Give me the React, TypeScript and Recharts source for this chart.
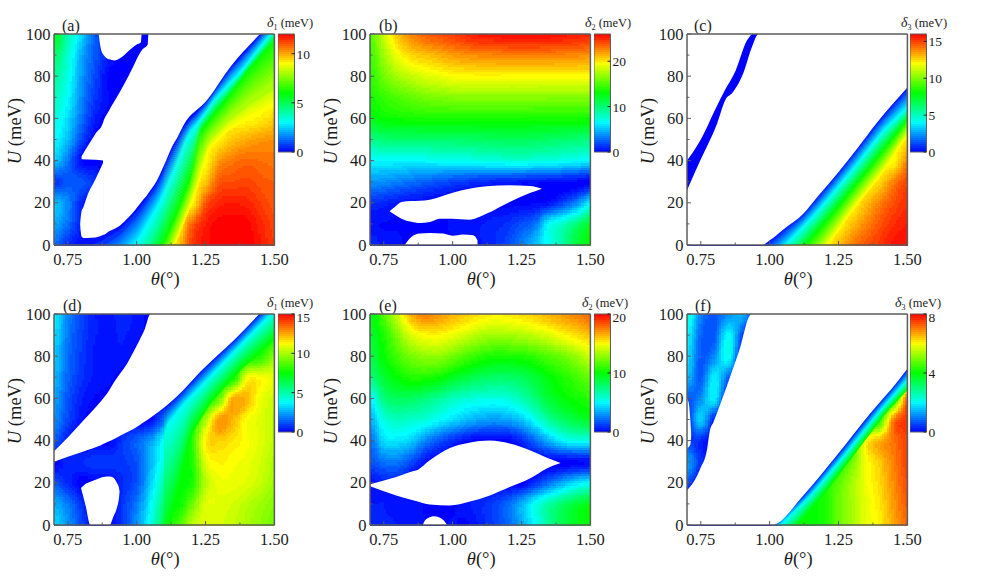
import React from "react";
import { ComposedChart, XAxis, YAxis, Scatter, Area, ReferenceArea } from "recharts";

// grid the gap values were read on (rows run from the top of the plot down)
const thetaGrid = [0.7, 0.75, 0.8, 0.85, 0.9, 0.95, 1.0, 1.05, 1.1, 1.15, 1.2, 1.25, 1.3, 1.35, 1.4, 1.45, 1.5];
const uGrid = [100, 90, 80, 70, 60, 50, 40, 30, 20, 10, 0];
const thetaTicks = [0.75, 0.875, 1.0, 1.125, 1.25, 1.375, 1.5];
const thetaLabels = [0.75, 1.0, 1.25, 1.5];
const uTicks = [0, 10, 20, 30, 40, 50, 60, 70, 80, 90, 100];

const gridA = [
  [5.8, 4, 2.5, 1, 0, 0, 0, 0, 0, 0, 0, 0, 0, 0, 0, 0.3, 3.5],
  [4.8, 3.6, 2, 1, 0.3, 0, 0, 0, 0, 0, 0, 0, 0, 0, 2, 4.5, 6.8],
  [4.2, 3.3, 1.8, 0.8, 0, 0, 0, 0, 0, 0, 0, 0, 0, 2, 5.5, 7.2, 8],
  [3.8, 3, 1.6, 0.6, 0.1, 0, 0, 0, 0, 0, 0, 0, 3.5, 6.5, 8, 8.5, 8.6],
  [3.4, 2.6, 1.3, 0.3, 0, 0, 0, 0, 0, 0, 0.6, 6.5, 7.8, 8.5, 9, 9.2, 9.5],
  [3, 2.2, 0.8, 0, 0, 0, 0, 0, 0, 0, 4.5, 8, 9.2, 9.7, 10, 10.2, 10.3],
  [2.4, 1.4, 0.1, 0, 0, 0, 0, 0, 0, 2.5, 5.5, 8.8, 10.2, 10.6, 10.8, 10.7, 10.6],
  [0.6, 1, 1, 0.5, 0, 0, 0, 0, 2.3, 4.8, 7.2, 9.7, 11, 11.1, 11.2, 11, 10.9],
  [2.3, 1.6, 0.4, 0, 0, 0, 0, 1.8, 4.2, 6.5, 8.6, 11, 11.6, 11.7, 11.6, 11.3, 11],
  [2, 1.3, 0.3, 0, 0, 0.7, 2.2, 4, 6, 8.2, 10.8, 11.7, 12, 12, 12, 11.6, 11.2],
  [1.3, 0.5, 0.2, 0.6, 1.2, 2, 3, 5, 7.3, 9.6, 11.3, 11.8, 12, 12, 12, 11.7, 11.3],
];
const gridB = [
  [15, 18, 21, 22.5, 23.5, 24, 24.5, 25, 25.5, 25.5, 25.8, 25.8, 25.8, 25.7, 25.5, 25.3, 25],
  [14.5, 17, 19.2, 20.5, 21, 21.5, 22, 22.3, 22.5, 22.6, 22.7, 22.7, 22.7, 22.7, 22.6, 22.5, 22.3],
  [14, 15.8, 17.2, 18, 18.6, 19, 19.4, 19.5, 19.6, 19.6, 19.5, 19.5, 19.5, 19.5, 19.5, 19.5, 19.5],
  [13.5, 14.3, 15, 15.5, 16, 16.2, 16.4, 16.5, 16.5, 16.5, 16.5, 16.5, 16.5, 16.4, 16.4, 16.4, 16.4],
  [12.5, 13, 13.3, 13.4, 13.5, 13.5, 13.5, 13.5, 13.5, 13.5, 13.5, 13.5, 13.4, 13.4, 13.4, 13.4, 13.4],
  [9.5, 10, 10.1, 10.1, 10.2, 10.3, 10.3, 10.4, 10.5, 10.6, 10.7, 10.7, 10.6, 10.4, 10.2, 10, 9.8],
  [6.3, 6.4, 6.4, 6.4, 6.5, 6.6, 6.7, 6.8, 7, 7.2, 7.3, 7.4, 7.2, 7, 6.8, 6.5, 6.3],
  [3.8, 3.6, 3.2, 2.8, 2.4, 2, 1.6, 1.3, 1, 0.8, 0.5, 0.4, 0.4, 0.3, 0.2, 0.1, 0.1],
  [1.2, 0.9, 0.5, 0.3, 0.2, 0.1, 0.1, 0.1, 0.1, 0.1, 0.1, 0.1, 0.2, 0.5, 1.8, 3.5, 6.3],
  [0.3, 0.2, 0.2, 0.2, 0.1, 0.1, 0.3, 0.4, 0.6, 0.9, 1.2, 2, 3, 6.5, 8, 10, 12],
  [1.2, 0.5, 0.3, 0.1, 0.1, 0.1, 0.1, 0.1, 0.6, 1, 1.8, 3.2, 5, 6.8, 9, 11.5, 13],
];
const gridC = [
  [0, 0, 0, 0, 0, 0, 0, 0, 0, 0, 0, 0, 0, 0, 0, 0, 0],
  [0, 0, 0, 0, 0, 0, 0, 0, 0, 0, 0, 0, 0, 0, 0, 0, 0],
  [0, 0, 0, 0, 0, 0, 0, 0, 0, 0, 0, 0, 0, 0, 0, 0, 0],
  [0, 0, 0, 0, 0, 0, 0, 0, 0, 0, 0, 0, 0, 0, 0, 0, 2],
  [0, 0, 0, 0, 0, 0, 0, 0, 0, 0, 0, 0, 0, 0, 0, 3, 8],
  [0, 0, 0, 0, 0, 0, 0, 0, 0, 0, 0, 0, 0, 0.3, 3.5, 7, 12.4],
  [0, 0, 0, 0, 0, 0, 0, 0, 0, 0, 0, 0, 1, 4.5, 8, 11.7, 13.9],
  [0, 0, 0, 0, 0, 0, 0, 0, 0, 0, 0, 1.3, 5, 9, 12.6, 14, 15],
  [0, 0, 0, 0, 0, 0, 0, 0, 0, 0, 2.3, 6, 10.8, 13, 14, 14.8, 15.3],
  [0, 0, 0, 0, 0, 0, 0, 0, 1.6, 5, 8, 11.5, 13, 13.9, 14.7, 15.3, 15.6],
  [0, 0, 0, 0, 0, 0, 1, 4.4, 7, 9.5, 11.5, 13, 14, 14.7, 15.2, 15.7, 15.8],
];
const gridD = [
  [3.7, 2, 1, 0.4, 0.3, 0.5, 0.3, 0, 0, 0, 0, 0, 0, 0, 0, 0.3, 3.5],
  [3.3, 1.8, 0.9, 0.4, 0.3, 0.4, 0.2, 0, 0, 0, 0, 0, 0, 0, 0.5, 3.2, 6.5],
  [3, 1.6, 0.8, 0.3, 0.3, 0.3, 0, 0, 0, 0, 0, 0, 0, 2.2, 4.8, 8, 9.5],
  [2.8, 1.5, 0.7, 0.3, 0.2, 0, 0, 0, 0, 0, 0, 0, 3.6, 7.5, 11, 11.2, 10.8],
  [2.4, 1.2, 0.4, 0.1, 0, 0, 0, 0, 0, 0, 0.6, 5, 9, 12.5, 12.3, 11, 10.5],
  [2.1, 1, 0.2, 0, 0, 0, 0, 0.1, 1.6, 2.4, 5.6, 10, 12.8, 12.3, 11.2, 10.8, 10.3],
  [1.3, 0.4, 0, 0, 0, 0.8, 1.4, 2.3, 3.9, 5.5, 8, 11.5, 11.9, 11.6, 11.2, 10.8, 10.3],
  [0, 0.5, 0.6, 0.8, 0.8, 0.8, 1.2, 2.6, 4.3, 5.7, 7.8, 10.8, 11.4, 11.2, 11, 10.6, 10],
  [1.3, 0.6, 0, 0, 0, 0.6, 1.2, 3, 5.1, 6.4, 7.8, 10.2, 11, 11, 10.8, 10.4, 9.8],
  [2.6, 1.8, 0.7, 0, 0, 0.8, 1.8, 3.6, 5.9, 7.4, 9, 10.8, 10.8, 10.6, 10.2, 9.8, 9.4],
  [3.2, 2.2, 1, 0, 0, 0.8, 2.2, 4, 6.5, 8.4, 10.2, 10.8, 10.7, 10.4, 10, 9.6, 9.2],
];
const gridE = [
  [9.5, 11.5, 14, 16.5, 17.5, 17, 16.5, 16, 15.5, 15.2, 15.3, 15.6, 16, 16.5, 17, 17.4, 18],
  [9, 10.5, 12.5, 14.3, 15, 15.1, 14.6, 14, 13.4, 13.1, 13.2, 13.4, 13.8, 14.3, 15, 15.6, 16.2],
  [8.5, 10, 11.3, 12.3, 12.8, 12.8, 12.2, 11.4, 10.8, 10.4, 10.4, 10.6, 11, 11.6, 12.2, 13, 14],
  [7.5, 9, 10, 10.6, 10.6, 10.2, 9.4, 8.8, 8.3, 8, 8, 8.3, 9, 9.9, 10.6, 11.3, 12],
  [4.7, 7.5, 8.2, 8.1, 7.6, 7, 6.3, 5.8, 5.6, 5.5, 5.7, 6.5, 7.7, 9, 9.8, 10.3, 10.7],
  [3.3, 5.6, 6.2, 6, 5.7, 5, 4.3, 3.7, 3.2, 3, 3.2, 3.9, 5.3, 7, 8, 8.8, 9.3],
  [2, 4.3, 4.5, 4, 2.6, 1.6, 0.8, 0.2, 0, 0, 0, 0.8, 2, 3.5, 4.8, 5.3, 5.3],
  [1.5, 2.2, 2.3, 1.4, 0.3, 0, 0, 0, 0, 0, 0, 0, 0, 0, 0, 0.1, 0.2],
  [0.2, 0.6, 0.6, 0, 0, 0, 0, 0, 0, 0, 0, 0, 1, 2.2, 3.5, 4.5, 5.2],
  [0.5, 0.5, 0.4, 0.4, 0.1, 0, 0.1, 0.4, 0.7, 1.2, 2, 3.5, 5.3, 6.8, 8, 9, 9.6],
  [0.8, 0.6, 0.5, 0.4, 0.2, 0.1, 0.2, 0.1, 0.6, 1.2, 2, 3.3, 5, 7, 8.5, 9.5, 10],
];
const gridF = [
  [2.4, 1, 0.7, 1.1, 1.4, 0.2, 0, 0, 0, 0, 0, 0, 0, 0, 0, 0, 0],
  [2, 0.8, 0.7, 2, 0.6, 0, 0, 0, 0, 0, 0, 0, 0, 0, 0, 0, 0],
  [1.8, 0.7, 1.1, 2.1, 0.1, 0, 0, 0, 0, 0, 0, 0, 0, 0, 0, 0, 0],
  [1.5, 0.7, 1.9, 0.8, 0, 0, 0, 0, 0, 0, 0, 0, 0, 0, 0, 0, 4.5],
  [0.6, 1.1, 1.9, 0, 0, 0, 0, 0, 0, 0, 0, 0, 0, 0, 0, 4.2, 7.2],
  [0.3, 1.6, 0.2, 0, 0, 0, 0, 0, 0, 0, 0, 0, 0, 0.1, 4.3, 7, 7.6],
  [0.5, 0.3, 0, 0, 0, 0, 0, 0, 0, 0, 0, 0, 4.2, 6, 6.6, 7.1, 7.5],
  [1.3, 0.4, 0, 0, 0, 0, 0, 0, 0, 0, 0, 4.2, 4.9, 5.9, 6.4, 7, 7.5],
  [0.6, 0, 0, 0, 0, 0, 0, 0, 0, 0, 4.2, 4.7, 5.3, 5.9, 6.3, 6.9, 7.4],
  [0, 0, 0, 0, 0, 0, 0, 0, 4, 4, 4.2, 4.8, 5.3, 5.8, 6.2, 6.8, 7.3],
  [0, 0, 0, 0, 0, 0, 0, 2, 4, 4, 4.2, 4.8, 5.3, 5.8, 6.1, 6.7, 7.2],
];

// contour lines for the steep diagonal fronts: level -> [theta, U] points
type Contour = { level: number; points: [number, number][] };
const frontA: Contour[] = [
  { level: 0, points: [[0.82, 3.3], [0.868, 4.6], [0.94, 9.3], [1.013, 19.6], [1.074, 30.7], [1.128, 46.5], [1.17, 56.7], [1.255, 68.6], [1.34, 84.4], [1.448, 100], [1.5, 108]] },
  { level: 3, points: [[0.82, -28], [0.9, -15], [1.001, 0], [1.086, 19.6], [1.14, 35.4], [1.189, 52], [1.225, 57.5], [1.285, 68.6], [1.382, 82], [1.49, 100], [1.5, 101.5]] },
  { level: 6, points: [[1.098, 0], [1.152, 16.4], [1.2, 32.3], [1.231, 52.8], [1.267, 59.1], [1.328, 68.6], [1.41, 83], [1.5, 96]] },
  { level: 9, points: [[1.14, 0], [1.219, 26], [1.261, 44.9], [1.334, 54.4], [1.412, 59.9], [1.503, 65.4]] },
];
const frontC: Contour[] = [
  { level: 0, points: [[0.973, 0], [1.0, 2.2], [1.05, 7.4], [1.123, 14.9], [1.173, 22.7], [1.245, 33.8], [1.318, 45.7], [1.39, 58], [1.5, 74.6]] },
  { level: 4, points: [[1.063, 0], [1.172, 14.9], [1.299, 34.6], [1.414, 53.6], [1.5, 64.6]] },
  { level: 8, points: [[1.135, 0], [1.232, 14.9], [1.353, 34.6], [1.468, 53.6], [1.5, 59]] },
  { level: 12, points: [[1.214, 0], [1.293, 14.9], [1.414, 34.6], [1.48, 48], [1.5, 51]] },
];
const frontD: Contour[] = [
  { level: 0, points: [[0.99, 45.6], [1.05, 50.8], [1.11, 56.7], [1.17, 64], [1.23, 72.5], [1.29, 80], [1.352, 87.5], [1.445, 100], [1.5, 107]] },
  { level: 3.75, points: [[1.043, 0], [1.07, 20], [1.106, 45.7], [1.17, 56.5], [1.231, 64.6], [1.352, 81.2], [1.49, 99.7], [1.5, 101]] },
  { level: 7.5, points: [[1.122, 0], [1.16, 20], [1.2, 43], [1.267, 57.5], [1.376, 73.3], [1.479, 85], [1.5, 88]] },
];
const frontF: Contour[] = [
  { level: 0, points: [[1.008, 0], [1.123, 14.1], [1.244, 33], [1.365, 52.8], [1.468, 68.6], [1.5, 74]] },
  { level: 2, points: [[1.045, 0], [1.154, 14.1], [1.275, 33], [1.396, 52.8], [1.486, 66.2], [1.5, 68]] },
  { level: 4, points: [[1.105, 0], [1.196, 14.1], [1.305, 33], [1.42, 52.8], [1.5, 63.9]] },
];

// white no-gap regions: [theta, U low, U high]
type Gap = [number, number, number][];
const gapsA: Gap[] = [
  [[0.795, 9.5, 10], [0.8, 4, 16], [0.807, 3.3, 18], [0.82, 3.3, 23], [0.85, 3.5, 31], [0.879, 4.8, 39.2]],
  [[0.8, 40.6, 42], [0.85, 40.4, 52.6], [0.878, 40, 58], [0.8785, 4.8, 58.2], [0.9, 6.5, 63.7], [0.94, 9.3, 72.7], [0.97, 13, 80], [0.989, 15.7, 85], [1.0, 17.5, 88], [1.02, 20.8, 92.5], [1.04, 24, 95], [1.043, 24.6, 100], [1.074, 30.7, 100], [1.1, 38, 100], [1.128, 46.5, 100], [1.15, 51.5, 100], [1.17, 56.7, 100], [1.255, 68.6, 100], [1.34, 84.4, 100], [1.448, 100, 100]],
  [[0.862, 100, 100], [0.87, 93, 100], [0.88, 90, 100], [0.9, 88, 100], [0.92, 87.5, 100], [0.95, 89.5, 100], [0.98, 93, 100], [1.0, 95, 100], [1.015, 96, 100], [1.018, 100, 100]],
];
const gapsB: Gap[] = [
  [[0.771, 16, 16], [0.79, 14.3, 18], [0.814, 12.5, 20.4], [0.85, 11, 20.8], [0.88, 10.4, 21], [0.917, 10.9, 21.5], [0.953, 12.5, 22.8], [1.0, 12.4, 24.8], [1.06, 12, 26.7], [1.122, 14.8, 27.8], [1.207, 20.4, 28.3], [1.28, 24.6, 28], [1.324, 26.7, 26.7]],
  [[0.826, 0, 0], [0.85, 0, 3.8], [0.88, 0, 5.4], [0.917, 0, 5.7], [0.965, 0, 5.4], [1.0, 0, 4.4], [1.037, 0, 5], [1.074, 0, 4.6], [1.09, 0, 2.2], [1.0905, 0, 0]],
];
const gapsC: Gap[] = [
  [[0.7, 40, 100], [0.748, 49.5, 100], [0.809, 66, 100], [0.836, 73, 100], [0.876, 82.5, 100], [0.918, 97, 100], [0.936, 100, 100]],
  [[0.7, 0, 26], [0.748, 0, 40], [0.809, 0, 57.5], [0.84, 0, 69], [0.864, 0, 72], [0.906, 0, 82], [0.936, 0, 94], [0.96, 0, 100], [0.973, 0, 100], [1.0, 2.2, 100], [1.05, 7.4, 100], [1.123, 14.9, 100], [1.173, 22.7, 100], [1.245, 33.8, 100], [1.318, 45.7, 100], [1.39, 58, 100], [1.5, 74.6, 100]],
];
const gapsD: Gap[] = [
  [[0.7, 30, 35], [0.75, 32.3, 41.5], [0.81, 35, 50], [0.868, 37.7, 58.3], [0.892, 39.2, 62.2], [0.922, 41, 68.5], [0.965, 43.9, 76.4], [0.99, 45.6, 82.5], [1.01, 47.3, 87.5], [1.03, 49, 93], [1.05, 50.8, 100], [1.11, 56.7, 100], [1.17, 64, 100], [1.23, 72.5, 100], [1.29, 80, 100], [1.352, 87.5, 100], [1.445, 100, 100]],
  [[0.798, 17.5, 17.5], [0.815, 9, 19.5], [0.832, 0, 20.5], [0.865, 0, 22.2], [0.892, 0, 23], [0.902, 0, 23], [0.915, 3.8, 22.5], [0.928, 8, 20], [0.936, 13, 17.5], [0.938, 15.7, 15.7]],
];
const gapsE: Gap[] = [
  [[0.7, 18.4, 19.3], [0.795, 14, 22.8], [0.856, 11.7, 25.5], [0.87, 11.3, 26], [0.917, 9.7, 30.7], [0.99, 9.3, 36.5], [1.06, 11, 39], [1.135, 14, 40], [1.207, 18, 38.6], [1.28, 22, 35.4], [1.34, 26.7, 32], [1.392, 29.4, 29.4]],
  [[0.892, 0, 0], [0.9, 0, 2.2], [0.915, 0, 3.6], [0.932, 0, 4.1], [0.95, 0, 3.7], [0.965, 0, 2.5], [0.98, 0, 0]],
];
const gapsF: Gap[] = [
  [[0.7, 0, 16.5], [0.724, 0, 20.4], [0.748, 0, 26.7], [0.773, 0, 36], [0.782, 0, 44], [0.797, 0, 49], [0.845, 0, 66], [0.888, 0, 82], [0.934, 0, 100], [1.008, 0, 100], [1.123, 14.1, 100], [1.244, 33, 100], [1.365, 52.8, 100], [1.468, 68.6, 100], [1.5, 74, 100]],
  [[0.7, 36, 60], [0.706, 37, 58], [0.712, 38, 50], [0.715, 42, 44]],
];

const panels = [
  { name: "(a)", sub: "1", grid: gridA, gaps: gapsA, front: frontA, frontFrom: 0.82, floorFrom: 1.1, max: 12, bar: [0, 5, 10], col: 0, row: 0, tx: 8, ttl: 267 },
  { name: "(b)", sub: "2", grid: gridB, gaps: gapsB, front: [] as Contour[], frontFrom: 2, floorFrom: 2, max: 26, bar: [0, 10, 20], col: 1, row: 0, tx: 9, ttl: 585 },
  { name: "(c)", sub: "3", grid: gridC, gaps: gapsC, front: frontC, frontFrom: 0.96, floorFrom: 1.05, max: 16, bar: [0, 5, 10, 15], col: 2, row: 0, tx: 7, ttl: 901 },
  { name: "(d)", sub: "1", grid: gridD, gaps: gapsD, front: frontD, frontFrom: 1.1, floorFrom: 1.1, max: 15, bar: [0, 5, 10, 15], col: 0, row: 1, tx: 9, ttl: 267 },
  { name: "(e)", sub: "2", grid: gridE, gaps: gapsE, front: [] as Contour[], frontFrom: 2, floorFrom: 2, max: 20, bar: [0, 10, 20], col: 1, row: 1, tx: 9, ttl: 582 },
  { name: "(f)", sub: "3", grid: gridF, gaps: gapsF, front: frontF, frontFrom: 1.0, floorFrom: 1.1, max: 8, bar: [0, 4, 8], col: 2, row: 1, tx: 8, ttl: 895 },
];

const PLOT_W = 220.4;
const PLOT_H = 211;
const PLOT_X = [53.7, 370.3, 686.7];
const PLOT_Y = [33.7, 314];
const BAR_X = [277.5, 594, 910];
const BAR_W = 16.5;
const BAR_H = 118;
const INK = "#1c1c1c";
const FRAME = "#5c5c5c";
const SERIF = "'Liberation Serif', serif";

const rainbow = (t: number) => {
  const s = Math.max(0, Math.min(1, t)) * 4;
  const i = Math.min(3, Math.floor(s));
  const f = Math.round((s - i) * 255);
  if (i === 0) return `rgb(0,${f},255)`;
  if (i === 1) return `rgb(0,255,${255 - f})`;
  if (i === 2) return `rgb(${f},255,0)`;
  return `rgb(255,${255 - f},0)`;
};

const LEVELS = 60;
const bandColor = (v: number, max: number) => rainbow(Math.round((v / max) * LEVELS) / LEVELS);

const spline = (p0: number, p1: number, p2: number, p3: number, t: number) =>
  0.5 * (2 * p1 + (p2 - p0) * t + (2 * p0 - 5 * p1 + 4 * p2 - p3) * t * t + (-p0 + 3 * p1 - 3 * p2 + p3) * t * t * t);

// one grid cell, shaded smoothly from the readings round it into contour-like bands
const makeCell = (p: (typeof panels)[number]) => (props: any) => {
  const { cx, cy, payload } = props;
  const { r, c, x } = payload;
  const { grid, max, floorFrom, front } = p;
  // right of floorFrom the contour bands paint everything up to their top level
  const floor = x >= floorFrom && front.length ? front[front.length - 1].level : 0;
  const cw = PLOT_W / (thetaGrid.length - 1);
  const ch = PLOT_H / (uGrid.length - 1);
  const rowIds = [r + 2, r + 1, r, r - 1].map((k) => Math.max(0, Math.min(uGrid.length - 1, k)));
  const colIds = [c - 1, c, c + 1, c + 2].map((k) => Math.max(0, Math.min(thetaGrid.length - 1, k)));
  const near = rowIds.map((k) => colIds.map((m) => Math.max(floor, grid[k][m])));
  const flat = near.flat();
  if (Math.min(...flat) === Math.max(...flat)) {
    return <rect x={cx} y={cy - ch} width={cw + 0.5} height={ch + 0.5} fill={bandColor(flat[0], max)} shapeRendering="crispEdges" />;
  }
  const corners = [near[1][1], near[1][2], near[2][1], near[2][2]];
  const lo = Math.min(...corners);
  const hi = Math.max(...corners);
  const nx = 6;
  const ny = 9;
  const out: React.ReactNode[] = [];
  for (let j = 0; j < ny; j++) {
    const t = (j + 0.5) / ny;
    let start = 0;
    let prev = "";
    for (let i = 0; i <= nx; i++) {
      let col = "";
      if (i < nx) {
        const s = (i + 0.5) / nx;
        const across = near.map((row) => spline(row[0], row[1], row[2], row[3], s));
        const v = spline(across[0], across[1], across[2], across[3], t);
        col = bandColor(Math.max(lo, Math.min(hi, v)), max);
      }
      if (col !== prev) {
        if (prev) {
          out.push(
            <rect key={`${j}-${i}`} x={cx + (start * cw) / nx} y={cy - ((j + 1) * ch) / ny} width={((i - start) * cw) / nx + 0.5} height={ch / ny + 0.5} fill={prev} shapeRendering="crispEdges" />
          );
        }
        start = i;
        prev = col;
      }
    }
  }
  return <g>{out}</g>;
};

const buildCells = () => {
  const cells: { x: number; y: number; r: number; c: number }[] = [];
  for (let r = 0; r < uGrid.length - 1; r++) {
    for (let c = 0; c < thetaGrid.length - 1; c++) {
      cells.push({ x: thetaGrid[c], y: uGrid[r + 1], r, c });
    }
  }
  return cells;
};

// U of a contour at theta, carried on straight past its ends
const contourAt = (pts: [number, number][], th: number) => {
  let i = 0;
  while (i < pts.length - 2 && th > pts[i + 1][0]) i++;
  const [x0, y0] = pts[i];
  const [x1, y1] = pts[i + 1];
  return y0 + ((y1 - y0) * (th - x0)) / (x1 - x0);
};

// thin flat-coloured strips between neighbouring contours, lowest level first
const buildStrips = (p: (typeof panels)[number]) => {
  const strips: { fill: string; data: { x: number; range: number[] }[] }[] = [];
  const stepsTheta: number[] = [];
  for (let th = p.frontFrom; th < 1.5; th += 0.0125) stepsTheta.push(th);
  stepsTheta.push(1.5);
  const clampU = (u: number) => Math.max(0, Math.min(100, u));
  for (let k = 0; k < p.front.length - 1; k++) {
    const a = p.front[k];
    const b = p.front[k + 1];
    const n = Math.max(1, Math.round(((b.level - a.level) / p.max) * LEVELS));
    for (let m = 0; m < n; m++) {
      const f0 = m / n;
      const f1 = (m + 1) / n;
      // the first strip runs on under the white mask so no seam shows at the edge
      const spare = k === 0 && m === 0 ? 3 : 0.35;
      const data = stepsTheta.map((th) => {
        const ua = contourAt(a.points, th);
        const ub = contourAt(b.points, th);
        return { x: th, range: [clampU(ua + (ub - ua) * f1), clampU(ua + (ub - ua) * f0 + spare)] };
      });
      strips.push({ fill: bandColor(a.level + ((b.level - a.level) * (m + 0.5)) / n, p.max), data });
    }
  }
  return strips;
};

const BottomTick = ({ x, y, payload }: any) => {
  const major = thetaLabels.includes(payload.value);
  return (
    <g>
      <line x1={x} x2={x} y1={y} y2={y - (major ? 4 : 2.5)} stroke={FRAME} />
      {major && (
        <text x={x} y={y + 20} textAnchor="middle" fontSize={16.5} fill={INK} fontFamily={SERIF}>
          {payload.value.toFixed(2)}
        </text>
      )}
    </g>
  );
};
const TopTick = ({ x, y, payload }: any) => (
  <line x1={x} x2={x} y1={y} y2={y + (thetaLabels.includes(payload.value) ? 4 : 2.5)} stroke={FRAME} />
);
const LeftTick = ({ x, y, payload }: any) => {
  const major = payload.value % 20 === 0;
  return (
    <g>
      <line x1={x} x2={x + (major ? 4 : 2.5)} y1={y} y2={y} stroke={FRAME} />
      {major && (
        <text x={x - 3.5} y={y + 5.5} textAnchor="end" fontSize={16.5} fill={INK} fontFamily={SERIF}>
          {payload.value}
        </text>
      )}
    </g>
  );
};
const RightTick = ({ x, y, payload }: any) => (
  <line x1={x} x2={x - (payload.value % 20 === 0 ? 4 : 2.5)} y1={y} y2={y} stroke={FRAME} />
);

const BarTick = ({ x, y, payload }: any) => (
  <g>
    <line x1={x} x2={x - 3} y1={y} y2={y} stroke={INK} />
    <text x={x + 2} y={y + (y < 26 ? 7.5 : 5)} fontSize={13.5} fill={INK} fontFamily={SERIF}>
      {payload.value}
    </text>
  </g>
);

const CHART_W = 300;
const CHART_H = 290;
const OFF_L = 50;
const OFF_T = 30;

const Panel = ({ p }: { p: (typeof panels)[number] }) => {
  const left = PLOT_X[p.col];
  const top = PLOT_Y[p.row];
  const cells = buildCells();
  const strips = buildStrips(p);
  const axisLine = { stroke: FRAME, strokeWidth: 1.5 };
  return (
    <div style={{ position: "absolute", left: left - OFF_L, top: top - OFF_T }}>
      <ComposedChart
        width={CHART_W}
        height={CHART_H}
        margin={{ top: OFF_T - 1, left: OFF_L - 1, right: CHART_W - OFF_L - PLOT_W - 1, bottom: CHART_H - OFF_T - PLOT_H - 1 }}
      >
        <XAxis dataKey="x" type="number" domain={[0.7, 1.5]} ticks={thetaTicks} interval={0} height={1} tickSize={0} tickMargin={0} tickLine={false} axisLine={axisLine} tick={BottomTick} />
        <XAxis xAxisId="top" orientation="top" dataKey="x" type="number" domain={[0.7, 1.5]} ticks={thetaTicks} interval={0} height={1} tickSize={0} tickMargin={0} tickLine={false} axisLine={axisLine} tick={TopTick} />
        <YAxis dataKey="y" type="number" domain={[0, 100]} ticks={uTicks} interval={0} width={1} tickSize={0} tickMargin={0} tickLine={false} axisLine={axisLine} tick={LeftTick} />
        <YAxis yAxisId="right" orientation="right" dataKey="y" type="number" domain={[0, 100]} ticks={uTicks} interval={0} width={1} tickSize={0} tickMargin={0} tickLine={false} axisLine={axisLine} tick={RightTick} />
        <Scatter data={cells} dataKey="y" shape={makeCell(p)} isAnimationActive={false} zIndex={50} />
        {strips.map((s, i) => (
          <Area key={`s${i}`} data={s.data} dataKey="range" type="linear" fill={s.fill} fillOpacity={1} stroke="none" dot={false} activeDot={false} isAnimationActive={false} zIndex={55} />
        ))}
        {p.gaps.map((gap, i) => (
          <Area
            key={i}
            data={gap.map(([x, lo, hi]) => ({ x, range: [lo, hi] }))}
            dataKey="range"
            type="monotone"
            fill="#ffffff"
            fillOpacity={1}
            stroke="none"
            dot={false}
            activeDot={false}
            isAnimationActive={false}
            zIndex={60}
          />
        ))}
        <text x={OFF_L + p.tx} y={OFF_T - 3} fontSize={16} fill={INK} fontFamily={SERIF}>
          {p.name}
        </text>
        <text
          transform={`translate(${OFF_L - 33} ${OFF_T + 97}) rotate(-90)`}
          textAnchor="middle"
          fontSize={18.5}
          fill={INK}
          fontFamily={SERIF}
        >
          <tspan fontStyle="italic">U</tspan> (meV)
        </text>
        <text x={OFF_L + PLOT_W / 2 + 1} y={OFF_T + PLOT_H + 40} textAnchor="middle" fontSize={18.5} fill={INK} fontFamily={SERIF}>
          <tspan fontStyle="italic">θ</tspan>(°)
        </text>
      </ComposedChart>
    </div>
  );
};

const ColorBar = ({ p, id }: { p: (typeof panels)[number]; id: string }) => {
  const stops: React.ReactNode[] = [];
  for (let i = 0; i < LEVELS; i++) {
    const col = rainbow((i + 0.5) / LEVELS);
    stops.push(<stop key={`a${i}`} offset={1 - i / LEVELS} stopColor={col} />);
    stops.push(<stop key={`b${i}`} offset={1 - (i + 1) / LEVELS} stopColor={col} />);
  }
  stops.reverse();
  const top = PLOT_Y[p.row];
  const x = BAR_X[p.col];
  return (
    <div style={{ position: "absolute", left: x, top: top - 20 }}>
      <ComposedChart
        width={50}
        height={BAR_H + 40}
        data={[{ x: 0, y: 0 }, { x: 1, y: p.max }]}
        margin={{ top: 20, left: 0, right: 50 - BAR_W - 1, bottom: 20 }}
      >
        <defs>
          <linearGradient id={id} x1="0" y1="0" x2="0" y2="1">
            {stops}
          </linearGradient>
        </defs>
        <XAxis dataKey="x" type="number" domain={[0, 1]} hide />
        <YAxis orientation="right" dataKey="y" type="number" domain={[0, p.max]} ticks={p.bar} interval={0} width={1} tickSize={0} tickMargin={0} tickLine={false} axisLine={false} tick={BarTick} />
        <ReferenceArea x1={0} x2={1} y1={0} y2={p.max} fill={`url(#${id})`} fillOpacity={1} stroke={FRAME} strokeWidth={1} />
      </ComposedChart>
      <svg width={60} height={20} style={{ position: "absolute", left: p.ttl - x, top: -3, overflow: "visible" }}>
        <text x={0} y={16} fontSize={12.5} fill={INK} fontFamily={SERIF}>
          <tspan fontStyle="italic" fontSize={14}>δ</tspan>
          <tspan fontSize={8} dy={3}>{p.sub}</tspan>
          <tspan dy={-3}> (meV)</tspan>
        </text>
      </svg>
    </div>
  );
};

export default function App() {
  return (
    <div style={{ position: "absolute", left: 0, top: 0, width: 981, height: 576, overflow: "hidden", background: "#fff" }}>
      {panels.map((p) => (
        <Panel key={p.name} p={p} />
      ))}
      {panels.map((p, i) => (
        <ColorBar key={p.name} p={p} id={`bar${i}`} />
      ))}
    </div>
  );
}
